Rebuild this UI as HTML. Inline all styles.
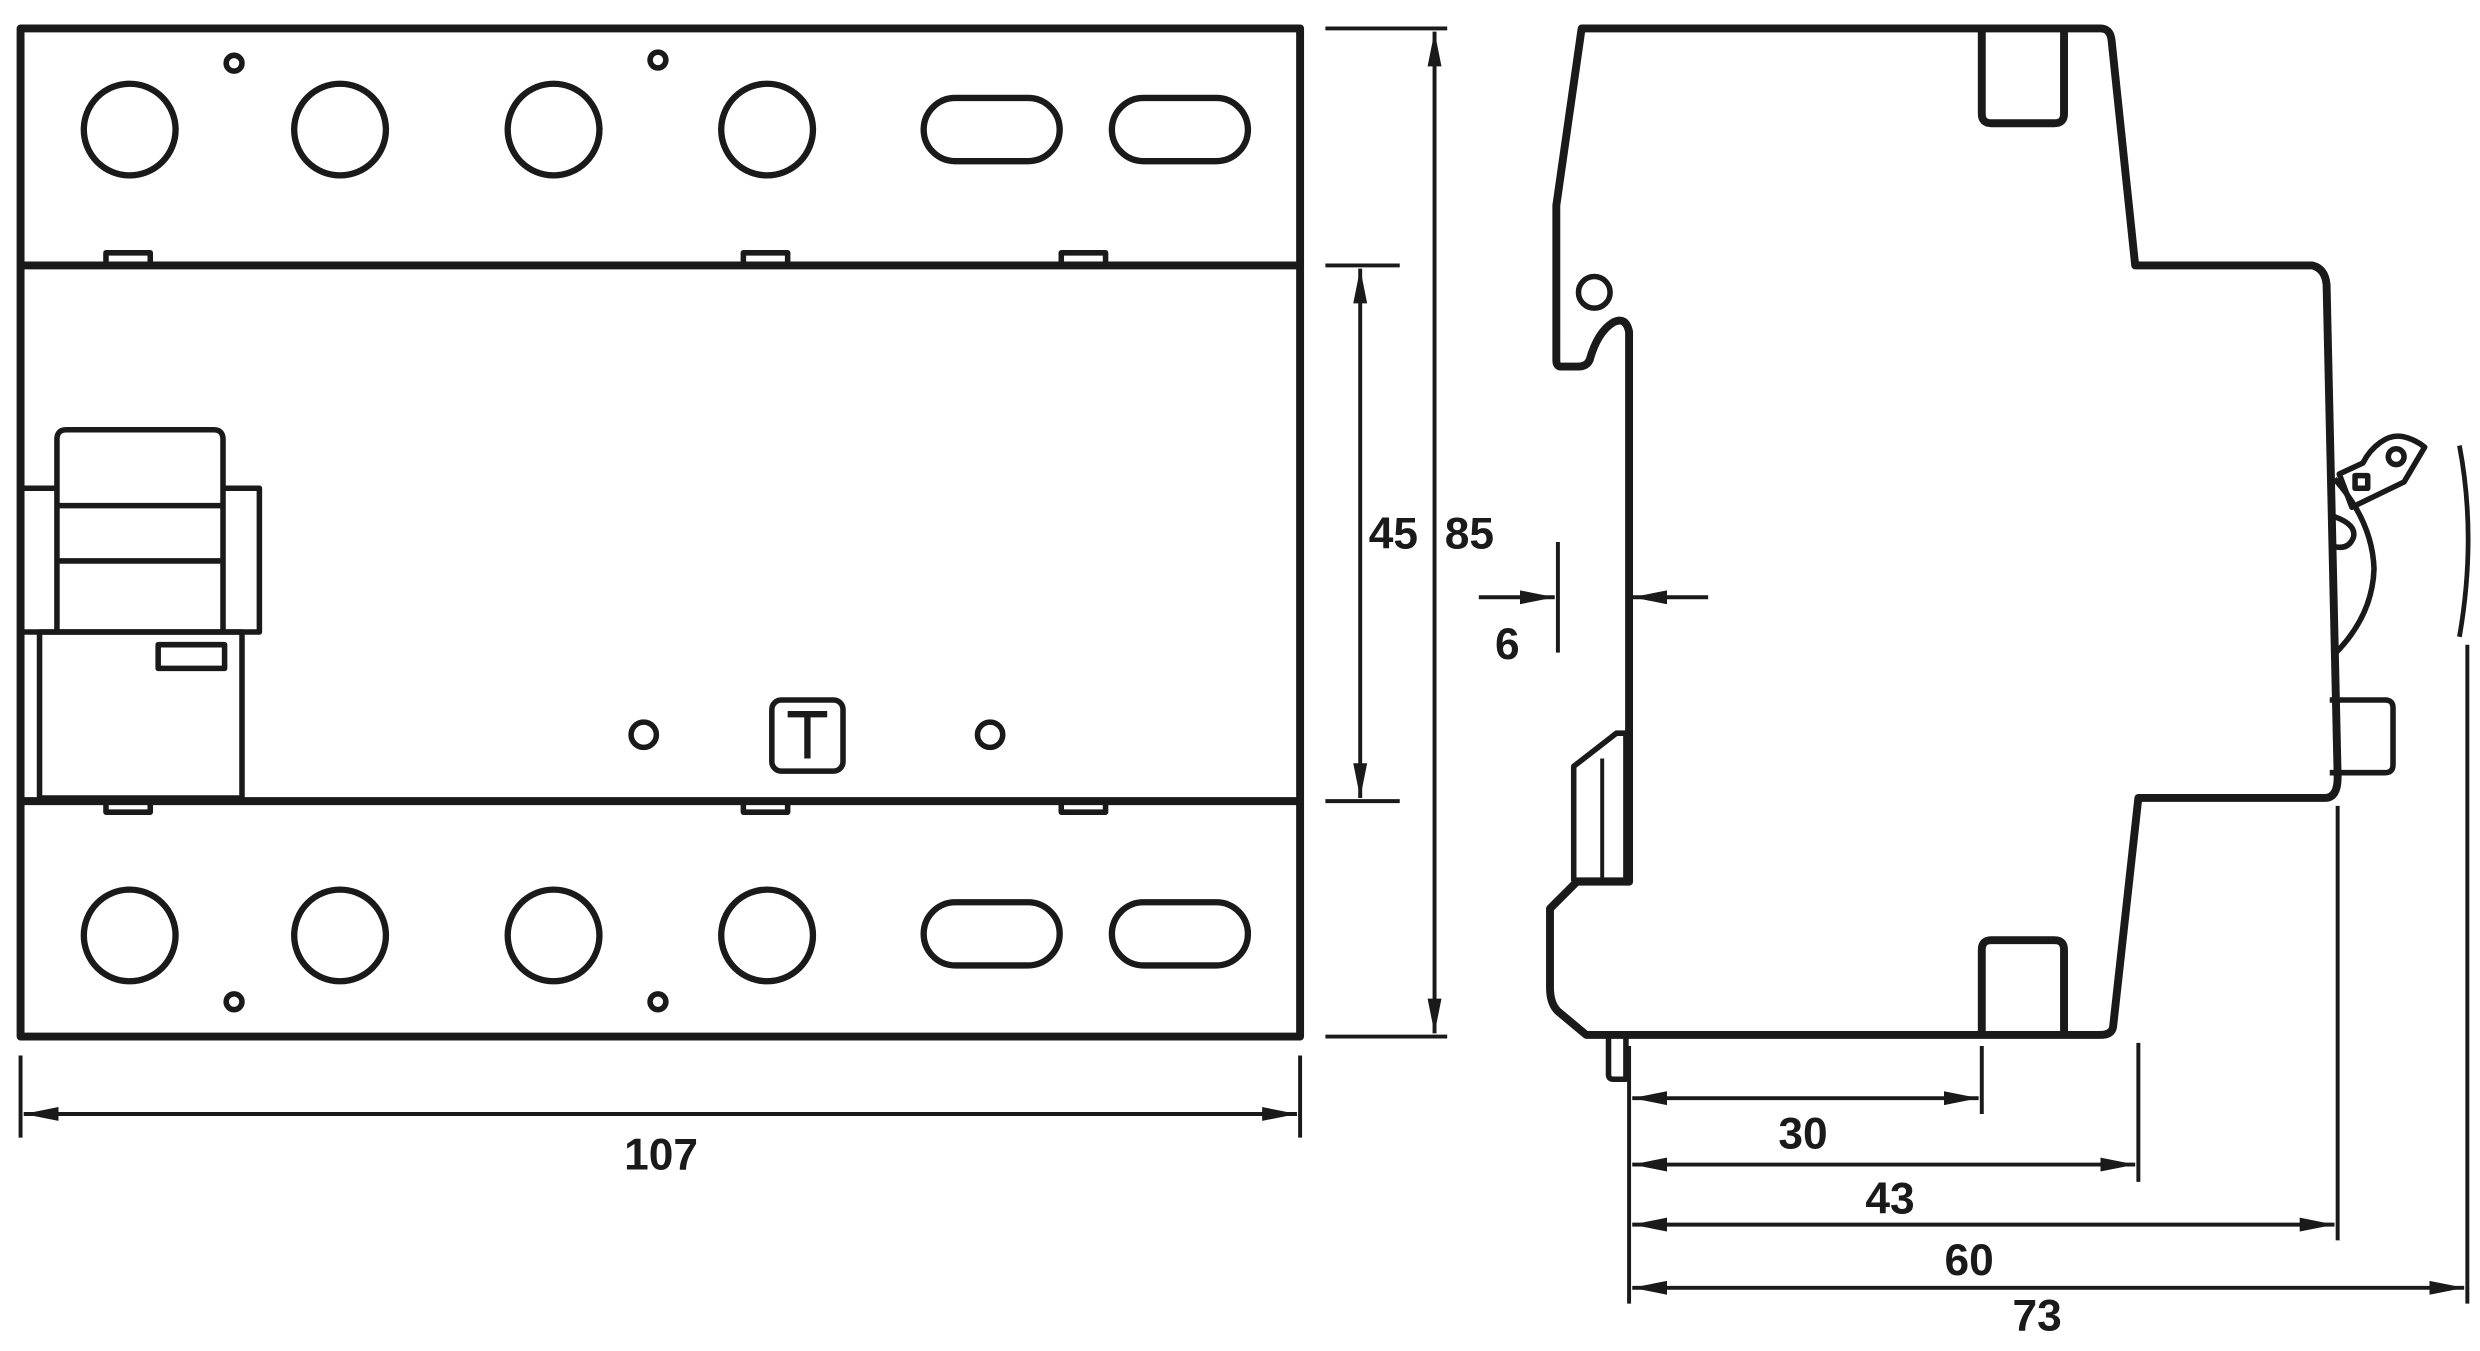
<!DOCTYPE html>
<html><head><meta charset="utf-8"><style>
html,body{margin:0;padding:0;background:#fff;}
svg{display:block;}
text{font-family:"Liberation Sans Narrow","Liberation Sans",sans-serif;font-size:28px;font-weight:bold;fill:#1a1a1a;text-anchor:middle;}
</style></head><body>
<svg width="2480" height="1351" viewBox="0 0 1568 855" preserveAspectRatio="none" xmlns="http://www.w3.org/2000/svg">
<defs>
<marker id="a" viewBox="0 0 20 8" refX="20" refY="4" markerWidth="22" markerHeight="9" markerUnits="userSpaceOnUse" orient="auto-start-reverse">
<path d="M0,0 L20,4 L0,8 Z" fill="#1a1a1a"/></marker>
</defs>
<g fill="none" stroke="#1a1a1a" stroke-width="5" stroke-linejoin="round">
<!-- front view -->
<rect x="13" y="18" width="809" height="638"/>
<line x1="13" y1="168" x2="822" y2="168"/>
<line x1="13" y1="507" x2="822" y2="507"/>
<g stroke-width="3.5">
<rect x="67" y="160" width="28" height="8"/><rect x="470" y="160" width="28" height="8"/><rect x="671" y="160" width="28" height="8"/>
<rect x="67" y="507" width="28" height="7"/><rect x="470" y="507" width="28" height="7"/><rect x="671" y="507" width="28" height="7"/>
</g>
<g stroke-width="4">
<circle cx="82" cy="82" r="29"/><circle cx="215" cy="82" r="29"/><circle cx="350" cy="82" r="29"/><circle cx="485" cy="82" r="29"/>
<rect x="584" y="62" width="86" height="40" rx="20"/><rect x="703" y="62" width="86" height="40" rx="20"/>
<circle cx="82" cy="592" r="29"/><circle cx="215" cy="592" r="29"/><circle cx="350" cy="592" r="29"/><circle cx="485" cy="592" r="29"/>
<rect x="584" y="571" width="86" height="40" rx="20"/><rect x="703" y="571" width="86" height="40" rx="20"/>
</g>
<g stroke-width="3.5">
<circle cx="148" cy="40" r="5"/><circle cx="416" cy="38" r="5"/><circle cx="148" cy="634" r="5"/><circle cx="416" cy="634" r="5"/>
<circle cx="407" cy="465" r="8"/><circle cx="626" cy="465" r="8"/>
<rect x="488" y="443" width="45" height="45" rx="6"/>
<!-- module -->
<path d="M36,400 V278 Q36,272 42,272 H135 Q141,272 141,278 V400"/>
<line x1="36" y1="320" x2="141" y2="320"/><line x1="36" y1="355" x2="141" y2="355"/>
<path d="M15,309 H36 M141,309 H164 V400 H15"/>
<rect x="25" y="400" width="128" height="105"/>
<rect x="100" y="408" width="42" height="15"/>
</g>
<!-- T -->
<path d="M498,452 H523 M510.5,452 V480" stroke-width="4"/>
<!-- front dims -->
<g stroke-width="2.5">
<line x1="838" y1="18" x2="915" y2="18"/><line x1="838" y1="656" x2="915" y2="656"/>
<line x1="838" y1="168" x2="885" y2="168"/><line x1="838" y1="507" x2="885" y2="507"/>
<line x1="907" y1="20" x2="907" y2="654" marker-start="url(#a)" marker-end="url(#a)"/>
<line x1="860" y1="170" x2="860" y2="505" marker-start="url(#a)" marker-end="url(#a)"/>
<line x1="13" y1="668" x2="13" y2="720"/><line x1="822" y1="668" x2="822" y2="720"/>
<line x1="15" y1="705" x2="820" y2="705" marker-start="url(#a)" marker-end="url(#a)"/>
</g>
<!-- side view -->
<path d="M1000,18 H1328 Q1334,18 1335,25 L1350,168 H1462 Q1470,170 1471,180 L1478,492 Q1478,505 1470,505 H1352 L1336,650 Q1335,655 1328,655 H1003 L985,640 Q980,635 980,625 V575 L997,558 H1030 V210 Q1028,200 1020,204 Q1010,210 1005,228 Q1003,232 998,232 H987 Q984,232 984,228 V130 Z"/>
<path d="M1253,18 V72 Q1253,78 1259,78 H1299 Q1305,78 1305,72 V18"/>
<path d="M1253,655 V601 Q1253,595 1259,595 H1299 Q1305,595 1305,601 V655"/>
<circle cx="1008" cy="185" r="10" stroke-width="3.5"/>
<path d="M1017,655 V680 Q1017,683 1020,683 H1028 V655" stroke-width="3.5"/>
<path d="M995,485 L1022,464 H1028 V557 H995 Z" stroke-width="3.5"/>
<line x1="1013" y1="480" x2="1013" y2="557" stroke-width="2.5"/>
<!-- toggle -->
<g stroke-width="3.5">
<path d="M1473,443 H1508 Q1513,443 1513,448 V484 Q1513,489 1508,489 H1473"/>
<path d="M1476,303 Q1500,330 1501,360 Q1500,390 1476,414"/>
<path d="M1476,327 Q1490,332 1488,340 Q1485,348 1476,346"/>
<path d="M1479,300 L1494,293 Q1498,285 1505,280 Q1513,274 1522,277 Q1528,279 1533,283 L1520,305 L1487,321 Z"/>
<circle cx="1515" cy="289" r="5"/>
<rect x="1489" y="301" width="8" height="8"/>
<path d="M1555,282 Q1566,340 1555,403" stroke-width="3"/>
</g>
<!-- side dims -->
<g stroke-width="2.5">
<line x1="985" y1="343" x2="985" y2="413"/>
<line x1="935" y1="378" x2="983" y2="378" marker-end="url(#a)"/>
<line x1="1080" y1="378" x2="1032" y2="378" marker-end="url(#a)"/>
<line x1="1030" y1="662" x2="1030" y2="825"/>
<line x1="1253" y1="662" x2="1253" y2="705"/>
<line x1="1352" y1="660" x2="1352" y2="748"/>
<line x1="1478" y1="510" x2="1478" y2="785"/>
<line x1="1560" y1="408" x2="1560" y2="825"/>
<line x1="1032" y1="695" x2="1251" y2="695" marker-start="url(#a)" marker-end="url(#a)"/>
<line x1="1032" y1="737" x2="1350" y2="737" marker-start="url(#a)" marker-end="url(#a)"/>
<line x1="1032" y1="775" x2="1476" y2="775" marker-start="url(#a)" marker-end="url(#a)"/>
<line x1="1032" y1="815" x2="1558" y2="815" marker-start="url(#a)" marker-end="url(#a)"/>
</g>
</g>
<text x="881" y="347">45</text>
<text x="929" y="347">85</text>
<text x="418" y="740">107</text>
<text x="953" y="417">6</text>
<text x="1140" y="727">30</text>
<text x="1195" y="768">43</text>
<text x="1245" y="807">60</text>
<text x="1288" y="842">73</text>
</svg>
</body></html>
